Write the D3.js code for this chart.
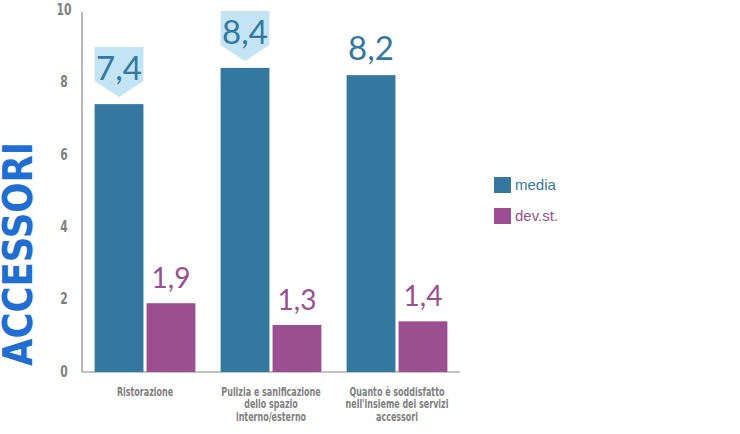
<!DOCTYPE html>
<html>
<head>
<meta charset="utf-8">
<script src="https://cdn.jsdelivr.net/npm/d3@7"></script>
<style>
  html, body { margin: 0; padding: 0; background: #fff; }
  svg { display: block; }
</style>
</head>
<body>
<svg id="chart" width="740" height="434"></svg>
<script>
// Categories (multi-line labels) and the two series
const categories = [
  ["Ristorazione"],
  ["Pulizia e sanificazione", "dello spazio", "interno/esterno"],
  ["Quanto è soddisfatto", "nell'insieme dei servizi", "accessori"]
];
const media = [7.4, 8.4, 8.2];
const devSt = [1.9, 1.3, 1.4];
const seriesNames = ["media", "dev.st."];
const yTicks = [0, 2, 4, 6, 8, 10];
// which media labels sit in a callout box
const mediaCallout = [true, true, false];

const colors = { media: "#35789f", dev: "#9b4f91", callout: "#c3e4f5", axis: "#888", tick: "#808080" };
const fmt = v => v.toFixed(1).replace(".", ",");
const narrowFont = "'DejaVu Sans Condensed', 'Liberation Sans Narrow', sans-serif";

const svg = d3.select("#chart");
const x0 = 82, x1 = 460, yBase = 372, yTop = 10;

const x = d3.scaleBand().domain(d3.range(categories.length)).range([x0, x1]).paddingInner(0.2).paddingOuter(0.1);
const xs = d3.scaleBand().domain([0, 1]).range([0, x.bandwidth()]).paddingInner(0.06);
const y = d3.scaleLinear().domain([0, 10]).range([yBase, yTop]);

// Axes
const yAxis = d3.axisLeft(y).tickValues(yTicks).tickSize(0).tickPadding(0);
const gy = svg.append("g").attr("transform", `translate(${x0},0)`).call(yAxis);
gy.select(".domain").attr("stroke", colors.axis).attr("stroke-width", 1.2).attr("d", `M0,${yBase}V${y(10) + 2}`);
gy.selectAll(".tick text")
  .attr("font-family", narrowFont).attr("font-weight", "bold")
  .attr("font-size", 15).attr("fill", colors.tick).attr("text-anchor", "middle")
  .attr("x", 0).attr("dy", "0.35em")
  .attr("transform", "translate(-18,-1) scale(0.8,1)");

svg.append("line").attr("x1", x0).attr("x2", x1).attr("y1", yBase).attr("y2", yBase)
  .attr("stroke", colors.axis).attr("stroke-width", 1.2);

// Bars
const groups = svg.append("g").selectAll("g").data(categories).join("g")
  .attr("transform", (d, i) => `translate(${x(i)},0)`);

groups.append("rect")
  .attr("x", xs(0)).attr("width", xs.bandwidth())
  .attr("y", (d, i) => y(media[i])).attr("height", (d, i) => yBase - y(media[i]))
  .attr("fill", colors.media);

groups.append("rect")
  .attr("x", xs(1)).attr("width", xs.bandwidth())
  .attr("y", (d, i) => y(devSt[i])).attr("height", (d, i) => yBase - y(devSt[i]))
  .attr("fill", colors.dev);

// Callouts behind media labels
const bw = xs.bandwidth();
groups.filter((d, i) => mediaCallout[i]).append("path")
  .attr("d", (d, i) => {
    const tip = y(media[i]) - 7;
    const bot = tip - 16, top = tip - 50;
    const l = xs(0), r = xs(0) + bw, c = l + bw / 2;
    return `M${l},${top}H${r}V${bot}L${c},${tip}L${l},${bot}Z`;
  })
  .attr("fill", colors.callout);

const labelFont = "'Lato', 'Open Sans', sans-serif";
groups.append("text")
  .attr("x", xs(0) + bw / 2)
  .attr("y", (d, i) => y(media[i]) - (mediaCallout[i] ? 24 : 15))
  .attr("text-anchor", "middle")
  .attr("font-family", labelFont).attr("font-weight", 400).attr("font-size", 33)
  .attr("fill", colors.media)
  .text((d, i) => fmt(media[i]));

groups.append("text")
  .attr("x", xs(1) + bw / 2)
  .attr("y", (d, i) => y(devSt[i]) - 15)
  .attr("text-anchor", "middle")
  .attr("font-family", labelFont).attr("font-weight", 400).attr("font-size", 28)
  .attr("fill", colors.dev)
  .text((d, i) => fmt(devSt[i]));

// Category labels
groups.append("text")
  .attr("text-anchor", "middle")
  .attr("transform", `translate(${x.bandwidth() / 2},0) scale(0.74,1)`)
  .attr("font-family", narrowFont).attr("font-weight", "bold")
  .attr("font-size", 12).attr("fill", colors.tick)
  .selectAll("tspan").data(d => d).join("tspan")
  .attr("x", 0)
  .attr("y", (d, j) => 396 + j * 12.5)
  .text(d => d);

// Legend
const legend = svg.append("g").attr("transform", "translate(494,177)");
const legendColors = [colors.media, colors.dev];
seriesNames.forEach((name, i) => {
  legend.append("rect").attr("x", 0).attr("y", i * 31).attr("width", 17).attr("height", 16).attr("fill", legendColors[i]);
  legend.append("text").attr("x", 21).attr("y", i * 31 + 13)
    .attr("font-family", "'Liberation Sans', Arial, sans-serif").attr("font-size", 15)
    .attr("fill", legendColors[i]).text(name);
});

// Section title
svg.append("text")
  .attr("transform", "translate(32,366) rotate(-90)")
  .attr("font-family", narrowFont)
  .attr("font-weight", "bold").attr("font-size", 41)
  .attr("fill", "#1f6fd1")
  .attr("textLength", 224).attr("lengthAdjust", "spacingAndGlyphs")
  .text("ACCESSORI");
</script>
</body>
</html>
